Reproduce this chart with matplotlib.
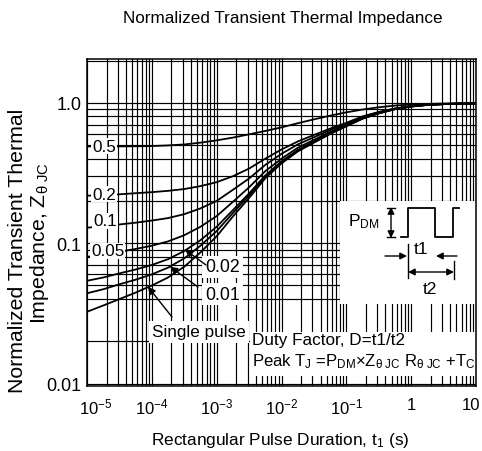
import matplotlib
matplotlib.use('Agg')
import matplotlib.pyplot as plt
import numpy as np
from matplotlib.patches import Rectangle
from matplotlib.ticker import FixedLocator, LogLocator, NullFormatter
from matplotlib.transforms import ScaledTranslation

plt.rcParams['font.family'] = ['Liberation Sans', 'DejaVu Sans']
plt.rcParams['mathtext.fontset'] = 'custom'
plt.rcParams['mathtext.rm'] = 'Liberation Sans'
plt.rcParams['mathtext.it'] = 'Liberation Sans:italic'
plt.rcParams['mathtext.bf'] = 'Liberation Sans:bold'

# ---------------- data ----------------
t_exp = [-5.0, -4.75, -4.5, -4.25, -4.0, -3.75, -3.5, -3.25, -3.0, -2.75, -2.5, -2.25,
         -2.0, -1.75, -1.5, -1.25, -1.0, -0.75, -0.5, -0.25, 0.0, 0.25, 0.5, 0.75, 1.0]
z_single = [0.0325, 0.036, 0.040, 0.0445, 0.050, 0.057, 0.068, 0.086, 0.112, 0.155, 0.21, 0.29,
            0.37, 0.45, 0.52, 0.60, 0.68, 0.77, 0.84, 0.90, 0.94, 0.965, 0.978, 0.985, 0.99]
z_001 = [0.044, 0.047, 0.051, 0.055, 0.060, 0.067, 0.078, 0.096, 0.122, 0.164, 0.219, 0.298,
         0.377, 0.456, 0.525, 0.604, 0.683, 0.772, 0.842, 0.901, 0.941, 0.965, 0.978, 0.985, 0.99]
z_002 = [0.054, 0.057, 0.061, 0.065, 0.070, 0.077, 0.088, 0.105, 0.131, 0.172, 0.226, 0.304,
         0.383, 0.461, 0.530, 0.608, 0.686, 0.775, 0.843, 0.902, 0.942, 0.966, 0.978, 0.985, 0.99]
z_005 = [0.080, 0.083, 0.087, 0.091, 0.096, 0.103, 0.114, 0.131, 0.156, 0.197, 0.250, 0.326,
         0.400, 0.478, 0.544, 0.620, 0.696, 0.780, 0.848, 0.905, 0.943, 0.967, 0.979, 0.986, 0.99]
z_01 = [0.129, 0.132, 0.136, 0.140, 0.145, 0.151, 0.161, 0.177, 0.200, 0.240, 0.289, 0.361,
        0.433, 0.505, 0.568, 0.640, 0.712, 0.793, 0.856, 0.910, 0.946, 0.969, 0.980, 0.987, 0.991]
z_02 = [0.218, 0.220, 0.223, 0.227, 0.231, 0.236, 0.243, 0.255, 0.272, 0.300, 0.340, 0.400,
        0.465, 0.530, 0.590, 0.655, 0.720, 0.800, 0.860, 0.910, 0.945, 0.968, 0.980, 0.987, 0.991]
z_05 = [0.489, 0.489, 0.489, 0.490, 0.492, 0.497, 0.505, 0.520, 0.540, 0.565, 0.596, 0.630,
        0.668, 0.715, 0.762, 0.810, 0.855, 0.895, 0.929, 0.955, 0.972, 0.982, 0.988, 0.991, 0.993]

x_ticks = [1e-5, 1e-4, 1e-3, 1e-2, 1e-1, 1, 10]
x_ticklabels = [r'$\mathregular{10^{-5}}$', r'$\mathregular{10^{-4}}$', r'$\mathregular{10^{-3}}$',
                r'$\mathregular{10^{-2}}$', r'$\mathregular{10^{-1}}$', '1', '10']
y_ticks = [0.01, 0.1, 1.0]
y_ticklabels = ['0.01', '0.1', '1.0']
y_minor = [0.02, 0.04, 0.05, 0.06, 0.07, 0.08, 0.09,
           0.2, 0.3, 0.4, 0.5, 0.6, 0.7, 0.8, 0.9, 2.0]

# arrow targets (data points on the curves)
arrow_02 = (3.25e-4, 0.090)
arrow_001 = (1.91e-4, 0.068)
arrow_single = (8.7e-5, 0.049)

# ---------------- figure ----------------
W, H = 482, 452
fig = plt.figure(figsize=(W / 100, H / 100), dpi=100)
AX_L, AX_R, AX_T, AX_B = 87, 476, 60, 386.5
ax = fig.add_axes([AX_L / W, 1 - AX_B / H, (AX_R - AX_L) / W, (AX_B - AX_T) / H])


def afrac(px, py):
    return ((px - AX_L) / (AX_R - AX_L), (AX_B - py) / (AX_B - AX_T))


def ffrac(px, py):
    return (px / W, 1 - py / H)


ax.set_xscale('log')
ax.set_yscale('log')
ax.set_xlim(1e-5, 10)
ax.set_ylim(0.0097, 2.05)

ax.xaxis.set_major_locator(FixedLocator(x_ticks))
ax.xaxis.set_minor_locator(LogLocator(base=10, subs=range(2, 10), numticks=20))
ax.xaxis.set_minor_formatter(NullFormatter())
ax.set_xticklabels(x_ticklabels)
ax.yaxis.set_major_locator(FixedLocator(y_ticks))
ax.yaxis.set_minor_locator(FixedLocator(y_minor))
ax.yaxis.set_minor_formatter(NullFormatter())
ax.set_yticklabels(y_ticklabels)
ax.tick_params(which='both', length=0)
ax.tick_params(axis='x', labelsize=12, pad=8)
ax.tick_params(axis='y', labelsize=13, pad=4)

# nudge the outermost x tick labels inside the picture, as in the reference
xlabs = ax.get_xticklabels()
xlabs[0].set_transform(xlabs[0].get_transform() + ScaledTranslation(9 / 100, 0, fig.dpi_scale_trans))
xlabs[-1].set_transform(xlabs[-1].get_transform() + ScaledTranslation(-5 / 100, 0, fig.dpi_scale_trans))

ax.set_axisbelow(True)
ax.grid(True, which='both', color='black', lw=0.85)
for s in ax.spines.values():
    s.set_linewidth(1.1)

t = 10.0 ** np.array(t_exp)
for z in [z_05, z_02, z_01, z_005, z_002, z_001, z_single]:
    ax.plot(t, z, color='black', lw=1.3, zorder=3, solid_capstyle='butt')

# white panels over the grid
def white_rect(x0, y0, x1, y1):
    a0 = afrac(x0, y1)
    a1 = afrac(x1, y0)
    ax.add_patch(Rectangle(a0, a1[0] - a0[0], a1[1] - a0[1], transform=ax.transAxes,
                           facecolor='white', edgecolor='none', zorder=1.5))

white_rect(340, 202, AX_R, 305)      # inset diagram
white_rect(250, 333, AX_R, 377)      # duty factor text

fs = 12.3
box = dict(facecolor='white', edgecolor='none', pad=0.6)
for lab, px, py in [('0.5', 92, 147), ('0.2', 92, 195), ('0.1', 93, 222), ('0.05', 91, 252)]:
    ax.text(*afrac(px, py), lab, transform=ax.transAxes, fontsize=fs, ha='left', va='center',
            bbox=box, zorder=4)

ax.text(*afrac(205, 268), '0.02', transform=ax.transAxes, fontsize=12.8, ha='left', va='center',
        bbox=dict(facecolor='white', edgecolor='none', pad=2.0), zorder=4)
ax.text(*afrac(205, 295), '0.01', transform=ax.transAxes, fontsize=12.8, ha='left', va='center',
        bbox=dict(facecolor='white', edgecolor='none', pad=2.0), zorder=4)
ax.text(*afrac(152, 333), 'Single pulse', transform=ax.transAxes, fontsize=fs, ha='left', va='center',
        bbox=dict(facecolor='white', edgecolor='none', pad=2.5), zorder=4)

arw = dict(arrowstyle='-|>', color='black', lw=1.0, mutation_scale=11, shrinkA=0, shrinkB=0)
ax.annotate('', xy=arrow_02, xycoords='data', xytext=afrac(206, 266), textcoords='axes fraction',
            arrowprops=arw, zorder=5)
ax.annotate('', xy=arrow_001, xycoords='data', xytext=afrac(198, 288), textcoords='axes fraction',
            arrowprops=arw, zorder=5)
ax.annotate('', xy=arrow_single, xycoords='data', xytext=afrac(172, 318), textcoords='axes fraction',
            arrowprops=arw, zorder=5)

# duty factor text
ax.text(*afrac(252, 341), 'Duty Factor, D=t1/t2', transform=ax.transAxes, fontsize=fs,
        ha='left', va='center', zorder=4)
ax.text(*afrac(252, 362),
        r'Peak T$_\mathregular{J}$ =P$_\mathregular{DM}$×Z$_\mathregular{θ\ JC}$ R$_\mathregular{θ\ JC}$ +T$_\mathregular{C}$',
        transform=ax.transAxes, fontsize=12.0, ha='left', va='center', zorder=4)

# inset pulse diagram (pixel coordinates of the schematic)
ins = fig.add_axes([340 / W, 1 - 305 / H, (AX_R - 340) / W, 103 / H])
ins.set_xlim(340, AX_R)
ins.set_ylim(305, 202)
ins.axis('off')
ins.patch.set_alpha(0)
ins.plot([401, 408, 408, 435, 435, 453, 453, 459], [238, 238, 209, 209, 238, 238, 209, 209],
         color='black', lw=1.3)
ins.text(348, 222, r'P$_\mathregular{DM}$', fontsize=12.5, ha='left', va='center')
ins.annotate('', xy=(391, 208), xytext=(391, 239),
             arrowprops=dict(arrowstyle='<|-|>', color='black', lw=1.0, mutation_scale=10,
                             shrinkA=0, shrinkB=0))
ins.plot([387, 395], [209, 209], color='black', lw=1.0)
ins.plot([387, 395], [238, 238], color='black', lw=1.0)
ins.plot([408, 408], [245, 279], color='black', lw=1.0)
ins.plot([454, 454], [262, 280], color='black', lw=1.0)
ins.annotate('', xy=(407, 257), xytext=(385, 257),
             arrowprops=dict(arrowstyle='-|>', color='black', lw=1.0, mutation_scale=10,
                             shrinkA=0, shrinkB=0))
ins.annotate('', xy=(436, 257), xytext=(457, 257),
             arrowprops=dict(arrowstyle='-|>', color='black', lw=1.0, mutation_scale=10,
                             shrinkA=0, shrinkB=0))
ins.annotate('', xy=(408, 273), xytext=(454, 273),
             arrowprops=dict(arrowstyle='<|-|>', color='black', lw=1.0, mutation_scale=10,
                             shrinkA=0, shrinkB=0))
ins.text(421, 250, 't1', fontsize=12.5, ha='center', va='center')
ins.text(430, 290, 't2', fontsize=12.5, ha='center', va='center')

# titles and labels
fig.text(*ffrac(283, 19), 'Normalized Transient Thermal Impedance', fontsize=12.3,
         ha='center', va='center')
fig.text(*ffrac(280, 441), r'Rectangular Pulse Duration, t$_\mathregular{1}$ (s)', fontsize=12.4,
         ha='center', va='center')
fig.text(*ffrac(18, 251), 'Normalized Transient Thermal', fontsize=15.3, rotation=90,
         ha='center', va='center')
fig.text(*ffrac(40, 243), r'Impedance, Z$_\mathregular{θ\ JC}$', fontsize=15.3, rotation=90,
         ha='center', va='center')

fig.savefig('out.png', dpi=100)
